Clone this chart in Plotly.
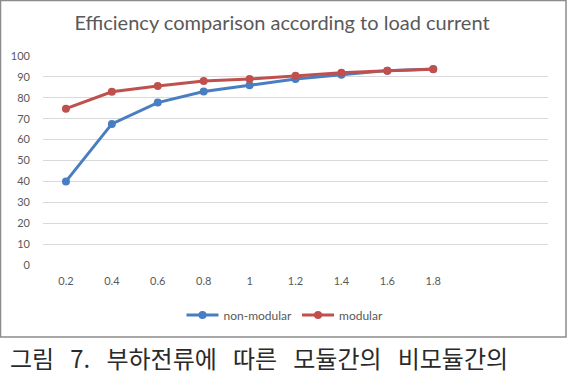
import plotly.graph_objects as go

load_current = [0.2, 0.4, 0.6, 0.8, 1.0, 1.2, 1.4, 1.6, 1.8]
tick_labels = ["0.2", "0.4", "0.6", "0.8", "1", "1.2", "1.4", "1.6", "1.8"]
non_modular = [40, 67.5, 77.7, 83, 86, 89, 91, 93, 93.8]
modular = [74.8, 82.9, 85.7, 88, 89, 90.5, 92, 92.9, 93.7]

title_text = "Efficiency comparison according to load current"
caption_words = ["그림", "7.", "부하전류에", "따른", "모듈간의", "비모듈간의"]

W, H = 570, 374
L, R, T, B = 43, 22, 56, 109
pw, ph = W - L - R, H - T - B

def px2x(px):
    return (px - L) / pw

def py2y(py):
    return (H - B - py) / ph

fig = go.Figure()
fig.add_trace(go.Scatter(
    x=load_current, y=non_modular, name="non-modular", mode="lines+markers",
    line=dict(color="#4A7EC2", width=3), marker=dict(size=8, color="#4A7EC2"),
))
fig.add_trace(go.Scatter(
    x=load_current, y=modular, name="modular", mode="lines+markers",
    line=dict(color="#C0504D", width=3), marker=dict(size=8, color="#C0504D"),
))

fig.update_layout(
    width=W, height=H,
    margin=dict(l=L, r=R, t=T, b=B),
    paper_bgcolor="white", plot_bgcolor="white",
    font=dict(family="Lato, Calibri, sans-serif", color="#595959", size=11),
    title=dict(text=title_text, x=282 / W, xanchor="center", y=1 - 23 / H, yanchor="middle",
               font=dict(size=20, color="#595959", family="Lato, sans-serif")),
    showlegend=True,
    legend=dict(orientation="h", x=px2x(285), xanchor="center", y=py2y(315), yanchor="middle",
                font=dict(size=12, color="#595959"), itemwidth=32, bgcolor="rgba(0,0,0,0)"),
    xaxis=dict(range=[0.1, 2.3], tickmode="array", tickvals=load_current, ticktext=tick_labels,
               showgrid=False, zeroline=False, showline=False, ticks="",
               ticklabelstandoff=8, fixedrange=True),
    yaxis=dict(range=[0, 100], dtick=10, showgrid=True, gridcolor="#D9D9D9", gridwidth=1,
               zeroline=False, showline=False, ticks="", ticklabelstandoff=12, fixedrange=True),
)

# chart border
fig.add_shape(type="rect", xref="paper", yref="paper",
              x0=px2x(0.5), x1=px2x(566), y0=py2y(337), y1=py2y(0.5),
              line=dict(color="#8C8C8C", width=1.5), fillcolor="rgba(0,0,0,0)", layer="below")

caption_text = "\u00a0\u00a0\u00a0".join(caption_words)
fig.add_annotation(text=caption_text, xref="paper", yref="paper",
                   x=px2x(8), y=py2y(377), xanchor="left", yanchor="bottom", showarrow=False,
                   font=dict(family="Noto Sans CJK KR", size=24, color="#2A2A2A"))

fig.write_html("out.html")
